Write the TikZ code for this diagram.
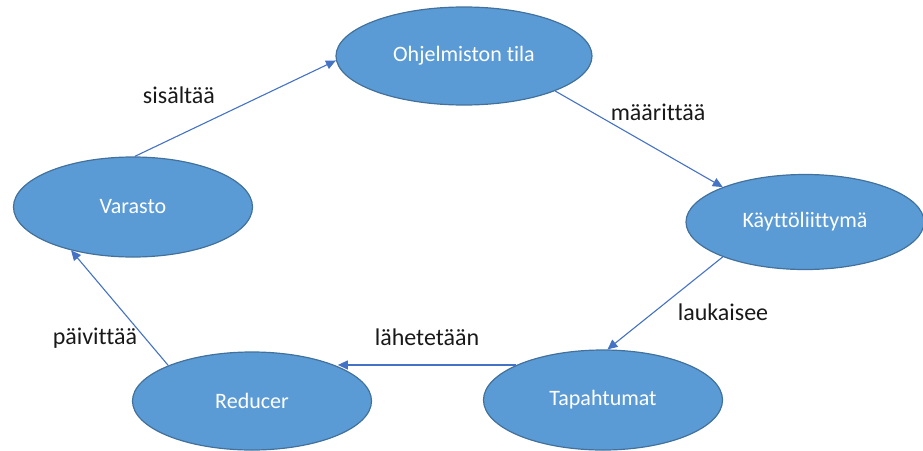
\documentclass[tikz,border=0pt]{standalone}
\usepackage{fontspec}
\setmainfont{Carlito}[Ligatures={NoCommon}]
\usetikzlibrary{shapes.geometric,arrows.meta}
\definecolor{nodefill}{HTML}{5B9BD5}
\definecolor{nodeline}{HTML}{41719C}
\definecolor{arrowblue}{HTML}{4472C4}
\tikzset{
  state/.style={ellipse, draw=nodeline, line width=1.2pt, fill=nodefill,
    text=white, inner sep=0pt, font=\fontsize{22}{26}\selectfont},
  flow/.style={draw=arrowblue, line width=1.1pt,
    -{Triangle[length=10pt,width=9pt]}},
  verb/.style={text=black!90, inner sep=0pt, font=\fontsize{24}{28}\selectfont}
}
\begin{document}
\begin{tikzpicture}[x=1pt,y=-1pt]
  \useasboundingbox (0,0) rectangle (923,450);
  % states of the cycle
  \node[state, minimum width=256pt, minimum height=98pt] (tila) at (464,56) {Ohjelmiston tila};
  \node[state, minimum width=239pt, minimum height=100pt] (varasto) at (133,207) {Varasto};
  \node[state, minimum width=238pt, minimum height=95pt] (ui) at (805,222) {Käyttöliittymä};
  \node[state, minimum width=239pt, minimum height=98pt] (reducer) at (252,401) {Reducer};
  \node[state, minimum width=239pt, minimum height=100pt] (events) at (603,400) {Tapahtumat};
  % connectors
  \draw[flow] (varasto.88) -- (tila.182);
  \draw[flow] (tila.-21) -- (ui.157);
  \draw[flow] (ui.203) -- (events.85);
  \draw[flow] (events.158.7) -- (events.158.7 -| reducer.22.6);
  \draw[flow] (reducer.157) -- (varasto.215);
  % connector labels
  \node[verb] (l1) at (179,95) {sisältää};
  \node[verb] (l2) at (658,112) {määrittää};
  \node[verb] (l3) at (723,312) {laukaisee};
  \node[verb] (l4) at (427,337) {lähetetään};
  \node[verb] (l5) at (95,338) {päivittää};
\end{tikzpicture}
\end{document}
